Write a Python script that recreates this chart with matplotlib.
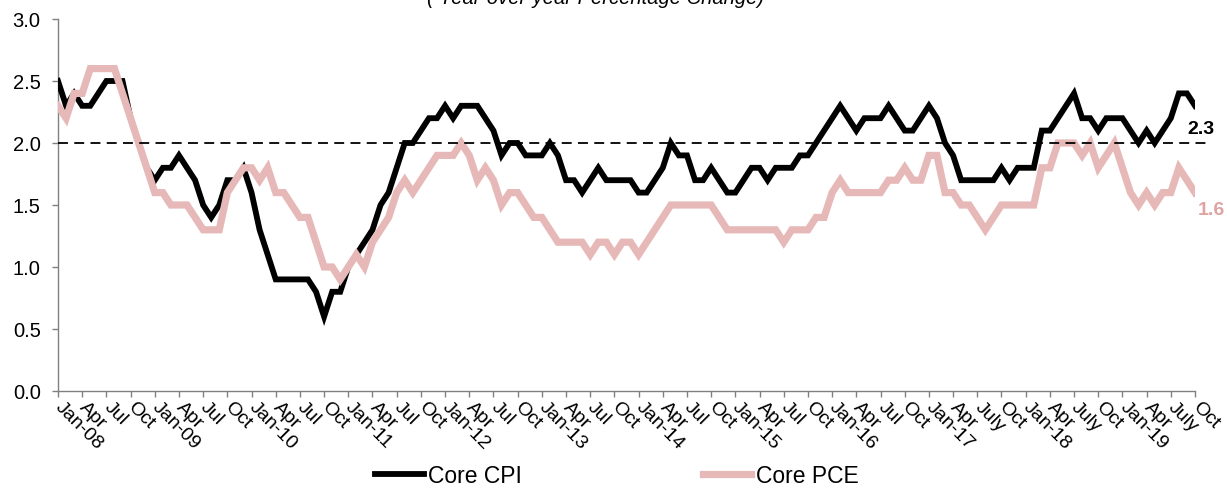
import matplotlib
matplotlib.use("Agg")
import matplotlib.pyplot as plt
import numpy as np

plt.rcParams['font.family'] = ['Liberation Sans', 'DejaVu Sans']

# Monthly Jan-08 .. Oct-19
core_cpi = [
    2.5, 2.3, 2.4, 2.3, 2.3, 2.4, 2.5, 2.5, 2.5, 2.2, 2.0, 1.8,
    1.7, 1.8, 1.8, 1.9, 1.8, 1.7, 1.5, 1.4, 1.5, 1.7, 1.7, 1.8,
    1.6, 1.3, 1.1, 0.9, 0.9, 0.9, 0.9, 0.9, 0.8, 0.6, 0.8, 0.8,
    1.0, 1.1, 1.2, 1.3, 1.5, 1.6, 1.8, 2.0, 2.0, 2.1, 2.2, 2.2,
    2.3, 2.2, 2.3, 2.3, 2.3, 2.2, 2.1, 1.9, 2.0, 2.0, 1.9, 1.9,
    1.9, 2.0, 1.9, 1.7, 1.7, 1.6, 1.7, 1.8, 1.7, 1.7, 1.7, 1.7,
    1.6, 1.6, 1.7, 1.8, 2.0, 1.9, 1.9, 1.7, 1.7, 1.8, 1.7, 1.6,
    1.6, 1.7, 1.8, 1.8, 1.7, 1.8, 1.8, 1.8, 1.9, 1.9, 2.0, 2.1,
    2.2, 2.3, 2.2, 2.1, 2.2, 2.2, 2.2, 2.3, 2.2, 2.1, 2.1, 2.2,
    2.3, 2.2, 2.0, 1.9, 1.7, 1.7, 1.7, 1.7, 1.7, 1.8, 1.7, 1.8,
    1.8, 1.8, 2.1, 2.1, 2.2, 2.3, 2.4, 2.2, 2.2, 2.1, 2.2, 2.2,
    2.2, 2.1, 2.0, 2.1, 2.0, 2.1, 2.2, 2.4, 2.4, 2.3,
]
core_pce = [
    2.3, 2.2, 2.4, 2.4, 2.6, 2.6, 2.6, 2.6, 2.4, 2.2, 2.0, 1.8,
    1.6, 1.6, 1.5, 1.5, 1.5, 1.4, 1.3, 1.3, 1.3, 1.6, 1.7, 1.8,
    1.8, 1.7, 1.8, 1.6, 1.6, 1.5, 1.4, 1.4, 1.2, 1.0, 1.0, 0.9,
    1.0, 1.1, 1.0, 1.2, 1.3, 1.4, 1.6, 1.7, 1.6, 1.7, 1.8, 1.9,
    1.9, 1.9, 2.0, 1.9, 1.7, 1.8, 1.7, 1.5, 1.6, 1.6, 1.5, 1.4,
    1.4, 1.3, 1.2, 1.2, 1.2, 1.2, 1.1, 1.2, 1.2, 1.1, 1.2, 1.2,
    1.1, 1.2, 1.3, 1.4, 1.5, 1.5, 1.5, 1.5, 1.5, 1.5, 1.4, 1.3,
    1.3, 1.3, 1.3, 1.3, 1.3, 1.3, 1.2, 1.3, 1.3, 1.3, 1.4, 1.4,
    1.6, 1.7, 1.6, 1.6, 1.6, 1.6, 1.6, 1.7, 1.7, 1.8, 1.7, 1.7,
    1.9, 1.9, 1.6, 1.6, 1.5, 1.5, 1.4, 1.3, 1.4, 1.5, 1.5, 1.5,
    1.5, 1.5, 1.8, 1.8, 2.0, 2.0, 2.0, 1.9, 2.0, 1.8, 1.9, 2.0,
    1.8, 1.6, 1.5, 1.6, 1.5, 1.6, 1.6, 1.8, 1.7, 1.6,
]
tick_labels = [
    "Jan-08", "Apr", "Jul", "Oct", "Jan-09", "Apr", "Jul", "Oct",
    "Jan-10", "Apr", "Jul", "Oct", "Jan-11", "Apr", "Jul", "Oct",
    "Jan-12", "Apr", "Jul", "Oct", "Jan-13", "Apr", "Jul", "Oct",
    "Jan-14", "Apr", "Jul", "Oct", "Jan-15", "Apr", "Jul", "Oct",
    "Jan-16", "Apr", "Jul", "Oct", "Jan-17", "Apr", "July", "Oct",
    "Jan-18", "Apr", "July", "Oct", "Jan-19", "Apr", "July", "Oct",
]
series_names = ["Core CPI", "Core PCE"]
target = 2.0
subtitle = "( Year-over-year Percentage Change)"

W, H = 1227, 489
fig = plt.figure(figsize=(W / 100, H / 100), dpi=100)
ax = fig.add_axes([58 / W, 1 - 392 / H, (1195 - 58) / W, (392 - 20) / H])

x = np.arange(len(core_cpi))
cpi_color = "#000000"
pce_color = "#E6B9B8"
ax.plot(x, core_cpi, color=cpi_color, lw=4.2, solid_joinstyle="miter",
        label=series_names[0], zorder=3)
ax.plot(x, core_pce, color=pce_color, lw=5.2, solid_joinstyle="miter",
        label=series_names[1], zorder=4)
ax.axhline(target, xmin=0, xmax=1.013, color="black", lw=1.3,
           dashes=(5.5, 3.5), clip_on=False, zorder=5)

ax.set_xlim(0, len(core_cpi) - 1)
ax.set_ylim(0, 3.0)
ax.set_yticks(np.arange(0, 3.01, 0.5))
ax.set_yticklabels([f"{v:.1f}" for v in np.arange(0, 3.01, 0.5)])
ax.set_xticks(np.arange(0, len(core_cpi), 3))
ax.set_xticklabels(tick_labels, rotation=-45, ha="left", va="center",
                   rotation_mode="anchor")

for s in ["top", "right"]:
    ax.spines[s].set_visible(False)
for s in ["left", "bottom"]:
    ax.spines[s].set_color("#808080")
    ax.spines[s].set_linewidth(1.0)
ax.tick_params(axis="y", direction="out", length=4.5, width=1, color="#808080",
               labelsize=14.5, pad=8, labelcolor="black")
ax.tick_params(axis="x", direction="out", length=4.5, width=1, color="#808080",
               labelsize=14, pad=5, labelcolor="black")

# end labels
ax.annotate(f"{core_cpi[-1]:.1f}", xy=(x[-1], core_cpi[-1]), xytext=(4, -16),
            textcoords="offset points", ha="center", va="center",
            fontsize=14, fontweight="bold", color="black", annotation_clip=False)
ax.annotate(f"{core_pce[-1]:.1f}", xy=(x[-1], core_pce[-1]), xytext=(12, -12),
            textcoords="offset points", ha="center", va="center",
            fontsize=14, fontweight="bold", color="#DFA3A2", annotation_clip=False)

fig.text(596 / W, 1 - 4 / H, subtitle, ha="center", va="baseline",
         fontsize=14.5, style="italic")

leg = fig.legend(loc="center", bbox_to_anchor=(617 / W, 1 - 477 / H),
                 ncol=2, frameon=False, fontsize=16.5, handlelength=2.1,
                 handletextpad=0.2, columnspacing=7.9, borderaxespad=0,
                 borderpad=0)

fig.savefig("out.png", dpi=100)
